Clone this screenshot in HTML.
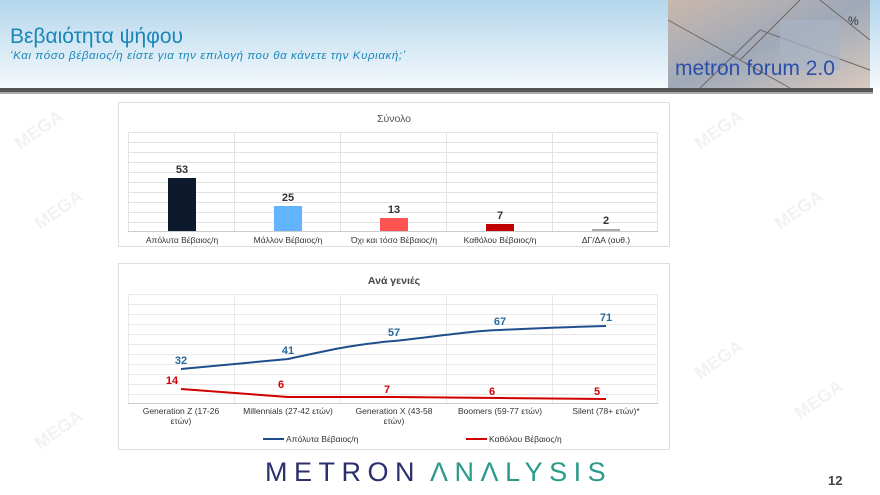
<!DOCTYPE html>
<html><head><meta charset="utf-8"><style>
html,body{margin:0;padding:0;width:880px;height:495px;overflow:hidden;background:#fff;font-family:"Liberation Sans","DejaVu Sans",sans-serif}
</style></head><body>
<svg width="880" height="495" viewBox="0 0 880 495" xmlns="http://www.w3.org/2000/svg" font-family="Liberation Sans, DejaVu Sans, sans-serif">
<defs>
<linearGradient id="hg" x1="0" y1="0" x2="0" y2="1">
<stop offset="0" stop-color="#b4d6ec"/><stop offset="1" stop-color="#f4f9fc"/>
</linearGradient>
<linearGradient id="lg" x1="0" y1="0" x2="1" y2="1">
<stop offset="0" stop-color="#c9b8ad"/><stop offset="0.5" stop-color="#9fa9b8"/><stop offset="1" stop-color="#d8c9bf"/>
</linearGradient>
</defs>
<rect x="0" y="0" width="880" height="88" fill="url(#hg)"/>
<rect x="0" y="88" width="873" height="4" fill="#555"/>
<rect x="0" y="92" width="873" height="2" fill="#aaa"/>
<text x="10" y="43" font-size="21" fill="#1a86b8">Βεβαιότητα ψήφου</text>
<text x="10" y="59" font-size="11.5" font-style="italic" fill="#1a86b8" letter-spacing="0.6">‘Και πόσο βέβαιος/η είστε για την επιλογή που θα κάνετε την Κυριακή;’</text>
<rect x="668" y="0" width="202" height="88" fill="url(#lg)"/>
<path d="M668 20 L740 60 L800 0 M700 88 L760 30 L870 70 M820 0 L870 40 M740 60 L790 88" stroke="#6f6660" stroke-width="1" fill="none"/>
<rect x="780" y="20" width="60" height="50" fill="#aab4c4" opacity="0.7"/>
<text x="848" y="25" font-size="12" fill="#333">%</text>
<text x="675" y="75" font-size="21" fill="#2b4fa8">metron forum 2.0</text>

<g font-size="18" fill="#f2f2f2" font-weight="bold">
<text transform="translate(20,150) rotate(-35)">MEGA</text>
<text transform="translate(40,230) rotate(-35)">MEGA</text>
<text transform="translate(700,150) rotate(-35)">MEGA</text>
<text transform="translate(780,230) rotate(-35)">MEGA</text>
<text transform="translate(700,380) rotate(-35)">MEGA</text>
<text transform="translate(40,450) rotate(-35)">MEGA</text>
<text transform="translate(800,420) rotate(-35)">MEGA</text>
</g>

<!-- Chart 1 -->
<rect x="118.5" y="102.5" width="551" height="144" fill="#fff" stroke="#ddd"/>
<text x="394" y="122" font-size="10.5" fill="#555" text-anchor="middle">Σύνολο</text>
<g stroke="#e3e3e3" stroke-width="1">
<line x1="128" y1="132.5" x2="658" y2="132.5"/><line x1="128" y1="142.5" x2="658" y2="142.5"/><line x1="128" y1="152.5" x2="658" y2="152.5"/><line x1="128" y1="162.5" x2="658" y2="162.5"/><line x1="128" y1="172.5" x2="658" y2="172.5"/><line x1="128" y1="182.5" x2="658" y2="182.5"/><line x1="128" y1="192.5" x2="658" y2="192.5"/><line x1="128" y1="202.5" x2="658" y2="202.5"/><line x1="128" y1="212.5" x2="658" y2="212.5"/><line x1="128" y1="222.5" x2="658" y2="222.5"/>
<line x1="128.5" y1="132" x2="128.5" y2="231"/><line x1="234.5" y1="132" x2="234.5" y2="231"/><line x1="340.5" y1="132" x2="340.5" y2="231"/><line x1="446.5" y1="132" x2="446.5" y2="231"/><line x1="552.5" y1="132" x2="552.5" y2="231"/><line x1="657.5" y1="132" x2="657.5" y2="231"/>
</g>
<line x1="128" y1="231.5" x2="658" y2="231.5" stroke="#ccc"/>
<rect x="168" y="178" width="28" height="53" fill="#0d1a2e"/>
<rect x="274" y="206" width="28" height="25" fill="#62b4ff"/>
<rect x="380" y="218" width="28" height="13" fill="#ff5252"/>
<rect x="486" y="224" width="28" height="7" fill="#c00000"/>
<rect x="592" y="229" width="28" height="2" fill="#aaa"/>
<g font-size="11" font-weight="bold" fill="#333" text-anchor="middle">
<text x="182" y="173">53</text><text x="288" y="201">25</text><text x="394" y="213">13</text><text x="500" y="219">7</text><text x="606" y="224">2</text>
</g>
<g font-size="8.5" fill="#333" text-anchor="middle">
<text x="182" y="243">Απόλυτα Βέβαιος/η</text><text x="288" y="243">Μάλλον Βέβαιος/η</text><text x="394" y="243">Όχι και τόσο Βέβαιος/η</text><text x="500" y="243">Καθόλου Βέβαιος/η</text><text x="606" y="243">ΔΓ/ΔΑ (αυθ.)</text>
</g>

<!-- Chart 2 -->
<rect x="118.5" y="263.5" width="551" height="186" fill="#fff" stroke="#ddd"/>
<text x="394" y="284" font-size="10.5" font-weight="bold" fill="#444" text-anchor="middle">Ανά γενιές</text>
<g stroke="#e8e8e8" stroke-width="1">
<line x1="128" y1="294.5" x2="658" y2="294.5"/><line x1="128" y1="304.5" x2="658" y2="304.5"/><line x1="128" y1="314.5" x2="658" y2="314.5"/><line x1="128" y1="324.5" x2="658" y2="324.5"/><line x1="128" y1="334.5" x2="658" y2="334.5"/><line x1="128" y1="344.5" x2="658" y2="344.5"/><line x1="128" y1="354.5" x2="658" y2="354.5"/><line x1="128" y1="364.5" x2="658" y2="364.5"/><line x1="128" y1="374.5" x2="658" y2="374.5"/><line x1="128" y1="384.5" x2="658" y2="384.5"/><line x1="128" y1="394.5" x2="658" y2="394.5"/>
<line x1="128.5" y1="294" x2="128.5" y2="403"/><line x1="234.5" y1="294" x2="234.5" y2="403"/><line x1="340.5" y1="294" x2="340.5" y2="403"/><line x1="446.5" y1="294" x2="446.5" y2="403"/><line x1="552.5" y1="294" x2="552.5" y2="403"/><line x1="657.5" y1="294" x2="657.5" y2="403"/>
</g>
<line x1="128" y1="403.5" x2="658" y2="403.5" stroke="#ccc"/>
<path d="M181 369 L288 359 C330 350 355 344 394 341 C440 336 470 331 500 330 C540 328 570 327 606 326" stroke="#1f4e8c" stroke-width="2" fill="none"/>
<path d="M181 389 L288 397 L394 397 L500 398 L606 399" stroke="#d00000" stroke-width="2" fill="none"/>
<g font-size="11" font-weight="bold" text-anchor="middle" fill="#2a6a9a">
<text x="181" y="364">32</text><text x="288" y="354">41</text><text x="394" y="336">57</text><text x="500" y="325">67</text><text x="606" y="321">71</text>
</g>
<g font-size="11" font-weight="bold" text-anchor="middle" fill="#d00000">
<text x="172" y="384">14</text><text x="281" y="388">6</text><text x="387" y="393">7</text><text x="492" y="395">6</text><text x="597" y="395">5</text>
</g>
<g font-size="8.5" fill="#333" text-anchor="middle">
<text x="181" y="414">Generation Z (17-26</text><text x="181" y="424">ετών)</text>
<text x="288" y="414">Millennials (27-42 ετών)</text>
<text x="394" y="414">Generation X (43-58</text><text x="394" y="424">ετών)</text>
<text x="500" y="414">Boomers (59-77 ετών)</text>
<text x="606" y="414">Silent (78+ ετών)*</text>
</g>
<line x1="263" y1="439" x2="284" y2="439" stroke="#1f4e8c" stroke-width="2"/>
<text x="286" y="442" font-size="8.5" fill="#333">Απόλυτα Βέβαιος/η</text>
<line x1="466" y1="439" x2="487" y2="439" stroke="#d00000" stroke-width="2"/>
<text x="489" y="442" font-size="8.5" fill="#333">Καθόλου Βέβαιος/η</text>

<text x="265" y="481" font-size="27" fill="#2a2f6e" letter-spacing="6.5">METRON</text>
<text x="430" y="481" font-size="27" fill="#2a9a8a" letter-spacing="6.5">ΛNΛLYSIS</text>
<text x="828" y="485" font-size="13" font-weight="bold" fill="#444">12</text>
</svg>
</body></html>
